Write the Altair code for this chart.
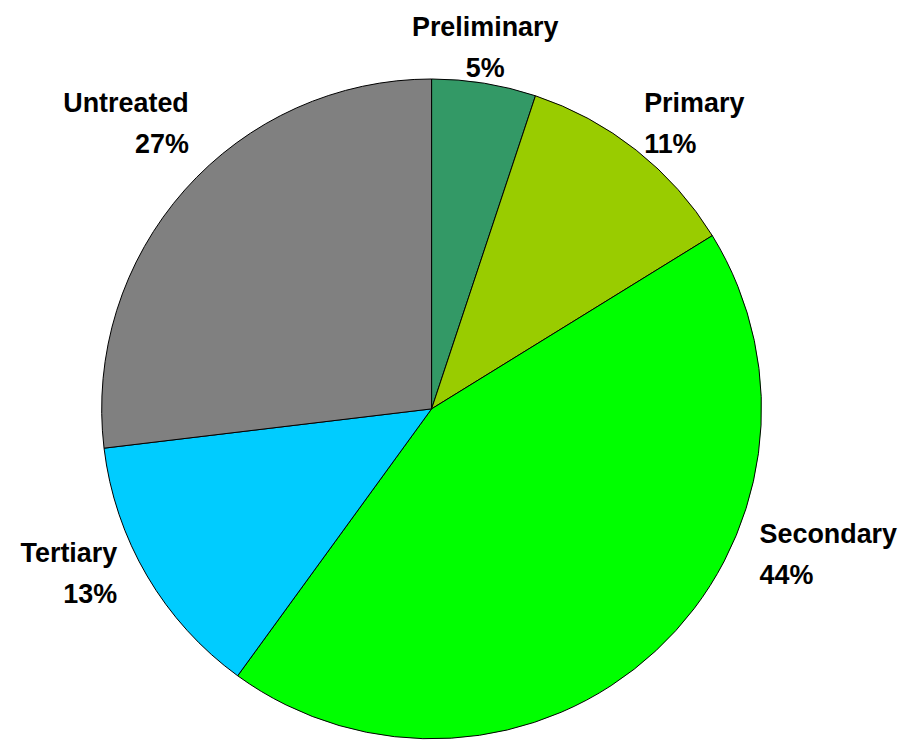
import altair as alt
import pandas as pd

categories = ["Preliminary", "Primary", "Secondary", "Tertiary", "Untreated"]
values = [5.1, 11.1, 43.8, 13.1, 26.9]
pct_labels = ["5%", "11%", "44%", "13%", "27%"]
colors = ["#339966", "#99CC00", "#00FF00", "#00CCFF", "#808080"]

df = pd.DataFrame({
    "category": categories,
    "value": values,
    "pct": pct_labels,
    "order": list(range(len(categories))),
})
df["mid"] = df["value"].cumsum() - df["value"] / 2
df["text"] = df["category"] + "\n" + df["pct"]

CX, CY, R = 425, 401, 331
FONT = "Liberation Sans, Arial, sans-serif"

theta_scale = alt.Scale(domain=[0, 100])

pie = alt.Chart(df).mark_arc(stroke="black", strokeWidth=1).encode(
    theta=alt.Theta("value:Q", stack=True, scale=theta_scale),
    order=alt.Order("order:Q"),
    color=alt.Color("category:N", scale=alt.Scale(domain=categories, range=colors), legend=None),
    x=alt.value(CX),
    y=alt.value(CY),
    radius=alt.value(R),
)

# label placement style: (align, dx, dy) relative to the slice midpoint on the rim
label_style = {
    "Preliminary": ("center", 1, -47),
    "Primary": ("left", 8, -38),
    "Secondary": ("left", 104, -108),
    "Tertiary": ("right", -30, -14),
    "Untreated": ("right", 4, -78),
}

layers = [pie]
for cat in categories:
    align, dx, dy = label_style[cat]
    layers.append(
        alt.Chart(df)
        .transform_filter(alt.datum.category == cat)
        .mark_text(
            align=align, baseline="alphabetic", dx=dx, dy=dy,
            font=FONT, fontSize=27, fontWeight="bold", color="black",
            lineBreak="\n", lineHeight=41,
        )
        .encode(
            theta=alt.Theta("mid:Q", scale=theta_scale),
            x=alt.value(CX),
            y=alt.value(CY),
            radius=alt.value(R),
            text="text:N",
        )
    )

chart = alt.layer(*layers).properties(
    width=890, height=724, padding=0, background="white"
).configure_view(strokeWidth=0)

chart.save("out.html", embed_options={"renderer": "svg", "actions": False})
